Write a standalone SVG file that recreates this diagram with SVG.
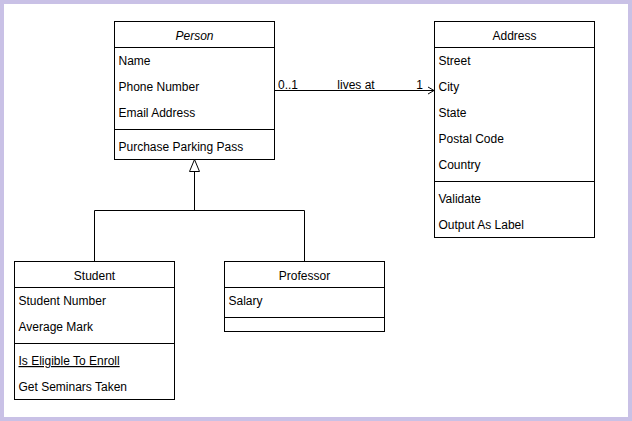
<svg xmlns="http://www.w3.org/2000/svg" width="632" height="421" viewBox="0 0 632 421">
<style>
.box{fill:#ffffff;stroke:#000000;stroke-width:1}
.ln{fill:none;stroke:#000000;stroke-width:1}
text{font-family:"Liberation Sans",Arial,Helvetica,sans-serif;font-size:12px;fill:#000000}
.c{text-anchor:middle}
.it{font-style:italic}
.u{text-decoration:underline}
</style>
<rect x="0" y="0" width="632" height="421" fill="#c9c1e6"/>
<rect x="4" y="4" width="624" height="413" fill="#ffffff"/>
<g id="person">
<rect class="box" x="114.5" y="21.5" width="160" height="138"/>
<line class="ln" x1="114.5" y1="47.5" x2="274.5" y2="47.5"/>
<line class="ln" x1="114.5" y1="129.5" x2="274.5" y2="129.5"/>
<text class="c it" x="194.5" y="40">Person</text>
<text x="118.5" y="65">Name</text>
<text x="118.5" y="91">Phone Number</text>
<text x="118.5" y="117">Email Address</text>
<text x="118.5" y="151">Purchase Parking Pass</text>
</g>
<g id="address">
<rect class="box" x="434.5" y="21.5" width="160" height="216"/>
<line class="ln" x1="434.5" y1="47.5" x2="594.5" y2="47.5"/>
<line class="ln" x1="434.5" y1="181.5" x2="594.5" y2="181.5"/>
<text class="c" x="514.5" y="40">Address</text>
<text x="438.5" y="65">Street</text>
<text x="438.5" y="91">City</text>
<text x="438.5" y="117">State</text>
<text x="438.5" y="143">Postal Code</text>
<text x="438.5" y="169">Country</text>
<text x="438.5" y="203">Validate</text>
<text x="438.5" y="229">Output As Label</text>
</g>
<g id="student">
<rect class="box" x="14.5" y="261.5" width="160" height="138"/>
<line class="ln" x1="14.5" y1="287.5" x2="174.5" y2="287.5"/>
<line class="ln" x1="14.5" y1="343.5" x2="174.5" y2="343.5"/>
<text class="c" x="94.5" y="280">Student</text>
<text x="18.5" y="305">Student Number</text>
<text x="18.5" y="331">Average Mark</text>
<text class="u" x="18.5" y="365">Is Eligible To Enroll</text>
<text x="18.5" y="391">Get Seminars Taken</text>
</g>
<g id="professor">
<rect class="box" x="224.5" y="261.5" width="160" height="70"/>
<line class="ln" x1="224.5" y1="287.5" x2="384.5" y2="287.5"/>
<line class="ln" x1="224.5" y1="317.5" x2="384.5" y2="317.5"/>
<text class="c" x="304.5" y="280">Professor</text>
<text x="228.5" y="305">Salary</text>
</g>
<g id="connectors">
<path class="ln" d="M94.5 261.5 V210.5 H304.5 V261.5 M194.5 210.5 V171.5"/>
<path class="box" d="M194.5 159.5 L199.5 171.5 L189.5 171.5 Z"/>
<line class="ln" x1="274.5" y1="90.5" x2="434.5" y2="90.5"/>
<path class="ln" d="M428 87 L434 90.5 L428 94"/>
<text x="278" y="88.5">0..1</text>
<text class="c" x="356" y="88.5">lives at</text>
<text x="423" y="88.5" text-anchor="end">1</text>
</g>
</svg>
